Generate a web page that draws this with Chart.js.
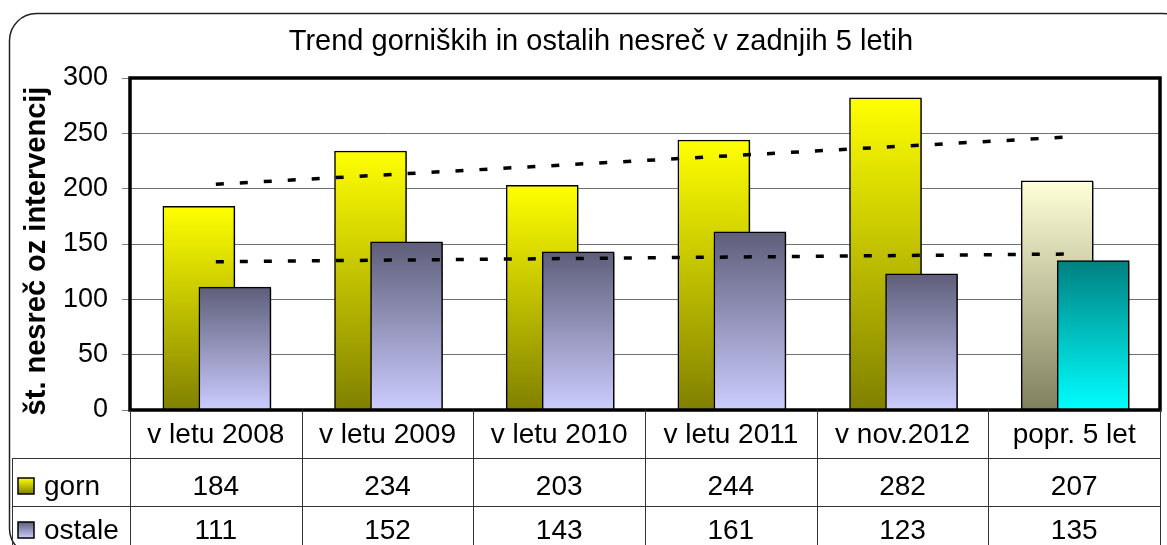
<!DOCTYPE html>
<html><head><meta charset="utf-8">
<script src="https://cdn.jsdelivr.net/npm/chart.js@4/dist/chart.umd.min.js"></script>
<style>html,body{margin:0;padding:0;background:#fff;overflow:hidden}</style>
</head><body>
<canvas id="c" width="1167" height="545"></canvas>
<script>
const chartTitle = 'Trend gorniških in ostalih nesreč v zadnjih 5 letih';
const yAxisTitle = 'št. nesreč oz intervencij';
const categories = ['v letu 2008', 'v letu 2009', 'v letu 2010', 'v letu 2011', 'v nov.2012', 'popr. 5 let'];
const seriesNames = ['gorn', 'ostale'];
const gorn = [184, 234, 203, 244, 282, 207];
const ostale = [111, 152, 143, 161, 123, 135];
const yTicks = [0, 50, 100, 150, 200, 250, 300];
// dashed linear trend lines: values read at first and last category
const trendGorn = [204, 247];
const trendOstale = [134, 141];

const FONT = "'Liberation Sans', Arial, sans-serif";
const N = categories.length;
const GORN_SHIFT = -0.099, OSTALE_SHIFT = 0.111;
const colors = {
  gorn: ['#ffff00', '#808000'],
  ostale: ['#5e5e7a', '#ccccff'],
  gornAvg: ['#ffffd8', '#80805f'],
  ostaleAvg: ['#008080', '#00ffff']
};

function gradientFill(pair, avgPair) {
  return (c) => {
    const chart = c.chart;
    if (!chart.chartArea || c.type !== 'data') return pair[0];
    const ys = chart.scales.y;
    const top = ys.getPixelForValue(c.raw.y), bot = ys.getPixelForValue(0);
    const p = c.dataIndex === N - 1 ? avgPair : pair;
    const g = chart.ctx.createLinearGradient(0, top, 0, Math.max(bot, top + 1));
    g.addColorStop(0, p[0]); g.addColorStop(1, p[1]);
    return g;
  };
}

const shadowPlugin = {
  id: 'barShadow',
  beforeDatasetDraw(chart, args) {
    if (args.meta.type !== 'bar') return;
    const ctx = chart.ctx; ctx.save();
    ctx.shadowColor = 'rgba(0,0,0,0.35)'; ctx.shadowOffsetX = 2; ctx.shadowOffsetY = 1; ctx.shadowBlur = 1;
  },
  afterDatasetDraw(chart, args) {
    if (args.meta.type !== 'bar') return;
    chart.ctx.restore();
  }
};

const decorPlugin = {
  id: 'decor',
  afterDraw(chart) {
    const ctx = chart.ctx, ca = chart.chartArea, xs = chart.scales.x;
    ctx.save();
    // outer rounded border
    ctx.strokeStyle = '#222'; ctx.lineWidth = 1.5;
    ctx.beginPath(); ctx.roundRect(9.5, 13.5, 1180, 542, 27); ctx.stroke();
    // title
    ctx.fillStyle = '#000'; ctx.textAlign = 'center'; ctx.textBaseline = 'alphabetic';
    ctx.font = '29px ' + FONT;
    ctx.fillText(chartTitle, 601, 50);
    // y axis title
    ctx.save(); ctx.translate(45, 251); ctx.rotate(-Math.PI / 2);
    ctx.font = 'bold 29px ' + FONT; ctx.fillText(yAxisTitle, 0, 0); ctx.restore();
    // plot frame
    ctx.strokeStyle = '#000'; ctx.lineWidth = 3.5;
    ctx.strokeRect(ca.left, ca.top, ca.right - ca.left, ca.bottom - ca.top);
    // data table
    const colW = (ca.right - ca.left) / N;
    ctx.strokeStyle = '#333'; ctx.lineWidth = 1;
    ctx.beginPath();
    for (let i = 0; i <= N; i++) {
      const x = Math.round(ca.left + i * colW) + 0.5;
      ctx.moveTo(x, ca.bottom); ctx.lineTo(x, 545);
    }
    [458.5, 506.5].forEach(y => { ctx.moveTo(12, y); ctx.lineTo(ca.right, y); });
    ctx.moveTo(12.5, 458); ctx.lineTo(12.5, 545);
    ctx.stroke();
    ctx.fillStyle = '#000'; ctx.font = '28px ' + FONT; ctx.textAlign = 'center';
    const rows = [gorn, ostale];
    const rowBase = [495, 539];
    categories.forEach((cat, i) => {
      const cx = xs.getPixelForValue(i);
      ctx.fillText(cat, cx, 443);
      rows.forEach((r, k) => ctx.fillText(String(r[i]), cx, rowBase[k]));
    });
    // legend keys
    const keyCols = [colors.gorn, colors.ostale];
    seriesNames.forEach((name, k) => {
      const ky = rowBase[k] - 17;
      const g = ctx.createLinearGradient(0, ky, 0, ky + 16);
      g.addColorStop(0, keyCols[k][0]); g.addColorStop(1, keyCols[k][1]);
      ctx.fillStyle = g; ctx.fillRect(18, ky, 16, 16);
      ctx.strokeStyle = '#000'; ctx.lineWidth = 1.5; ctx.strokeRect(18, ky, 16, 16);
      ctx.fillStyle = '#000'; ctx.textAlign = 'left';
      ctx.fillText(name, 44, rowBase[k]);
    });
    ctx.restore();
  }
};

new Chart(document.getElementById('c'), {
  data: {
    datasets: [
      {
        type: 'bar', label: seriesNames[0], order: 2,
        data: gorn.map((v, i) => ({ x: i + GORN_SHIFT, y: v })),
        backgroundColor: gradientFill(colors.gorn, colors.gornAvg),
        borderColor: '#000', borderWidth: 1.5, barThickness: 72, grouped: false
      },
      {
        type: 'bar', label: seriesNames[1], order: 1,
        data: ostale.map((v, i) => ({ x: i + OSTALE_SHIFT, y: v })),
        backgroundColor: gradientFill(colors.ostale, colors.ostaleAvg),
        borderColor: '#000', borderWidth: 1.5, barThickness: 72, grouped: false
      },
      {
        type: 'line', label: 'trend ' + seriesNames[0], order: 0,
        data: [{ x: 0, y: trendGorn[0] }, { x: N - 1, y: trendGorn[1] }],
        borderColor: '#000', borderWidth: 3.5, borderDash: [8, 16], pointRadius: 0, fill: false
      },
      {
        type: 'line', label: 'trend ' + seriesNames[1], order: 0,
        data: [{ x: 0, y: trendOstale[0] }, { x: N - 1, y: trendOstale[1] }],
        borderColor: '#000', borderWidth: 3.5, borderDash: [8, 16], pointRadius: 0, fill: false
      }
    ]
  },
  options: {
    responsive: false, animation: false, devicePixelRatio: 1,
    layout: { padding: { top: 78, bottom: 135, left: 0, right: 7 } },
    plugins: { legend: { display: false }, tooltip: { enabled: false }, title: { display: false } },
    scales: {
      x: { type: 'linear', min: -0.5, max: N - 0.5, offset: false, display: false },
      y: {
        min: 0, max: 300,
        afterBuildTicks: (s) => { s.ticks = yTicks.map(v => ({ value: v })); },
        afterFit: (s) => { s.width = 130; },
        ticks: { color: '#000', font: { family: FONT, size: 27 }, padding: 14 },
        grid: { color: '#707070', lineWidth: 1, tickLength: 8, tickColor: '#808080' },
        border: { display: false }
      }
    }
  },
  plugins: [shadowPlugin, decorPlugin]
});
</script>
</body></html>
